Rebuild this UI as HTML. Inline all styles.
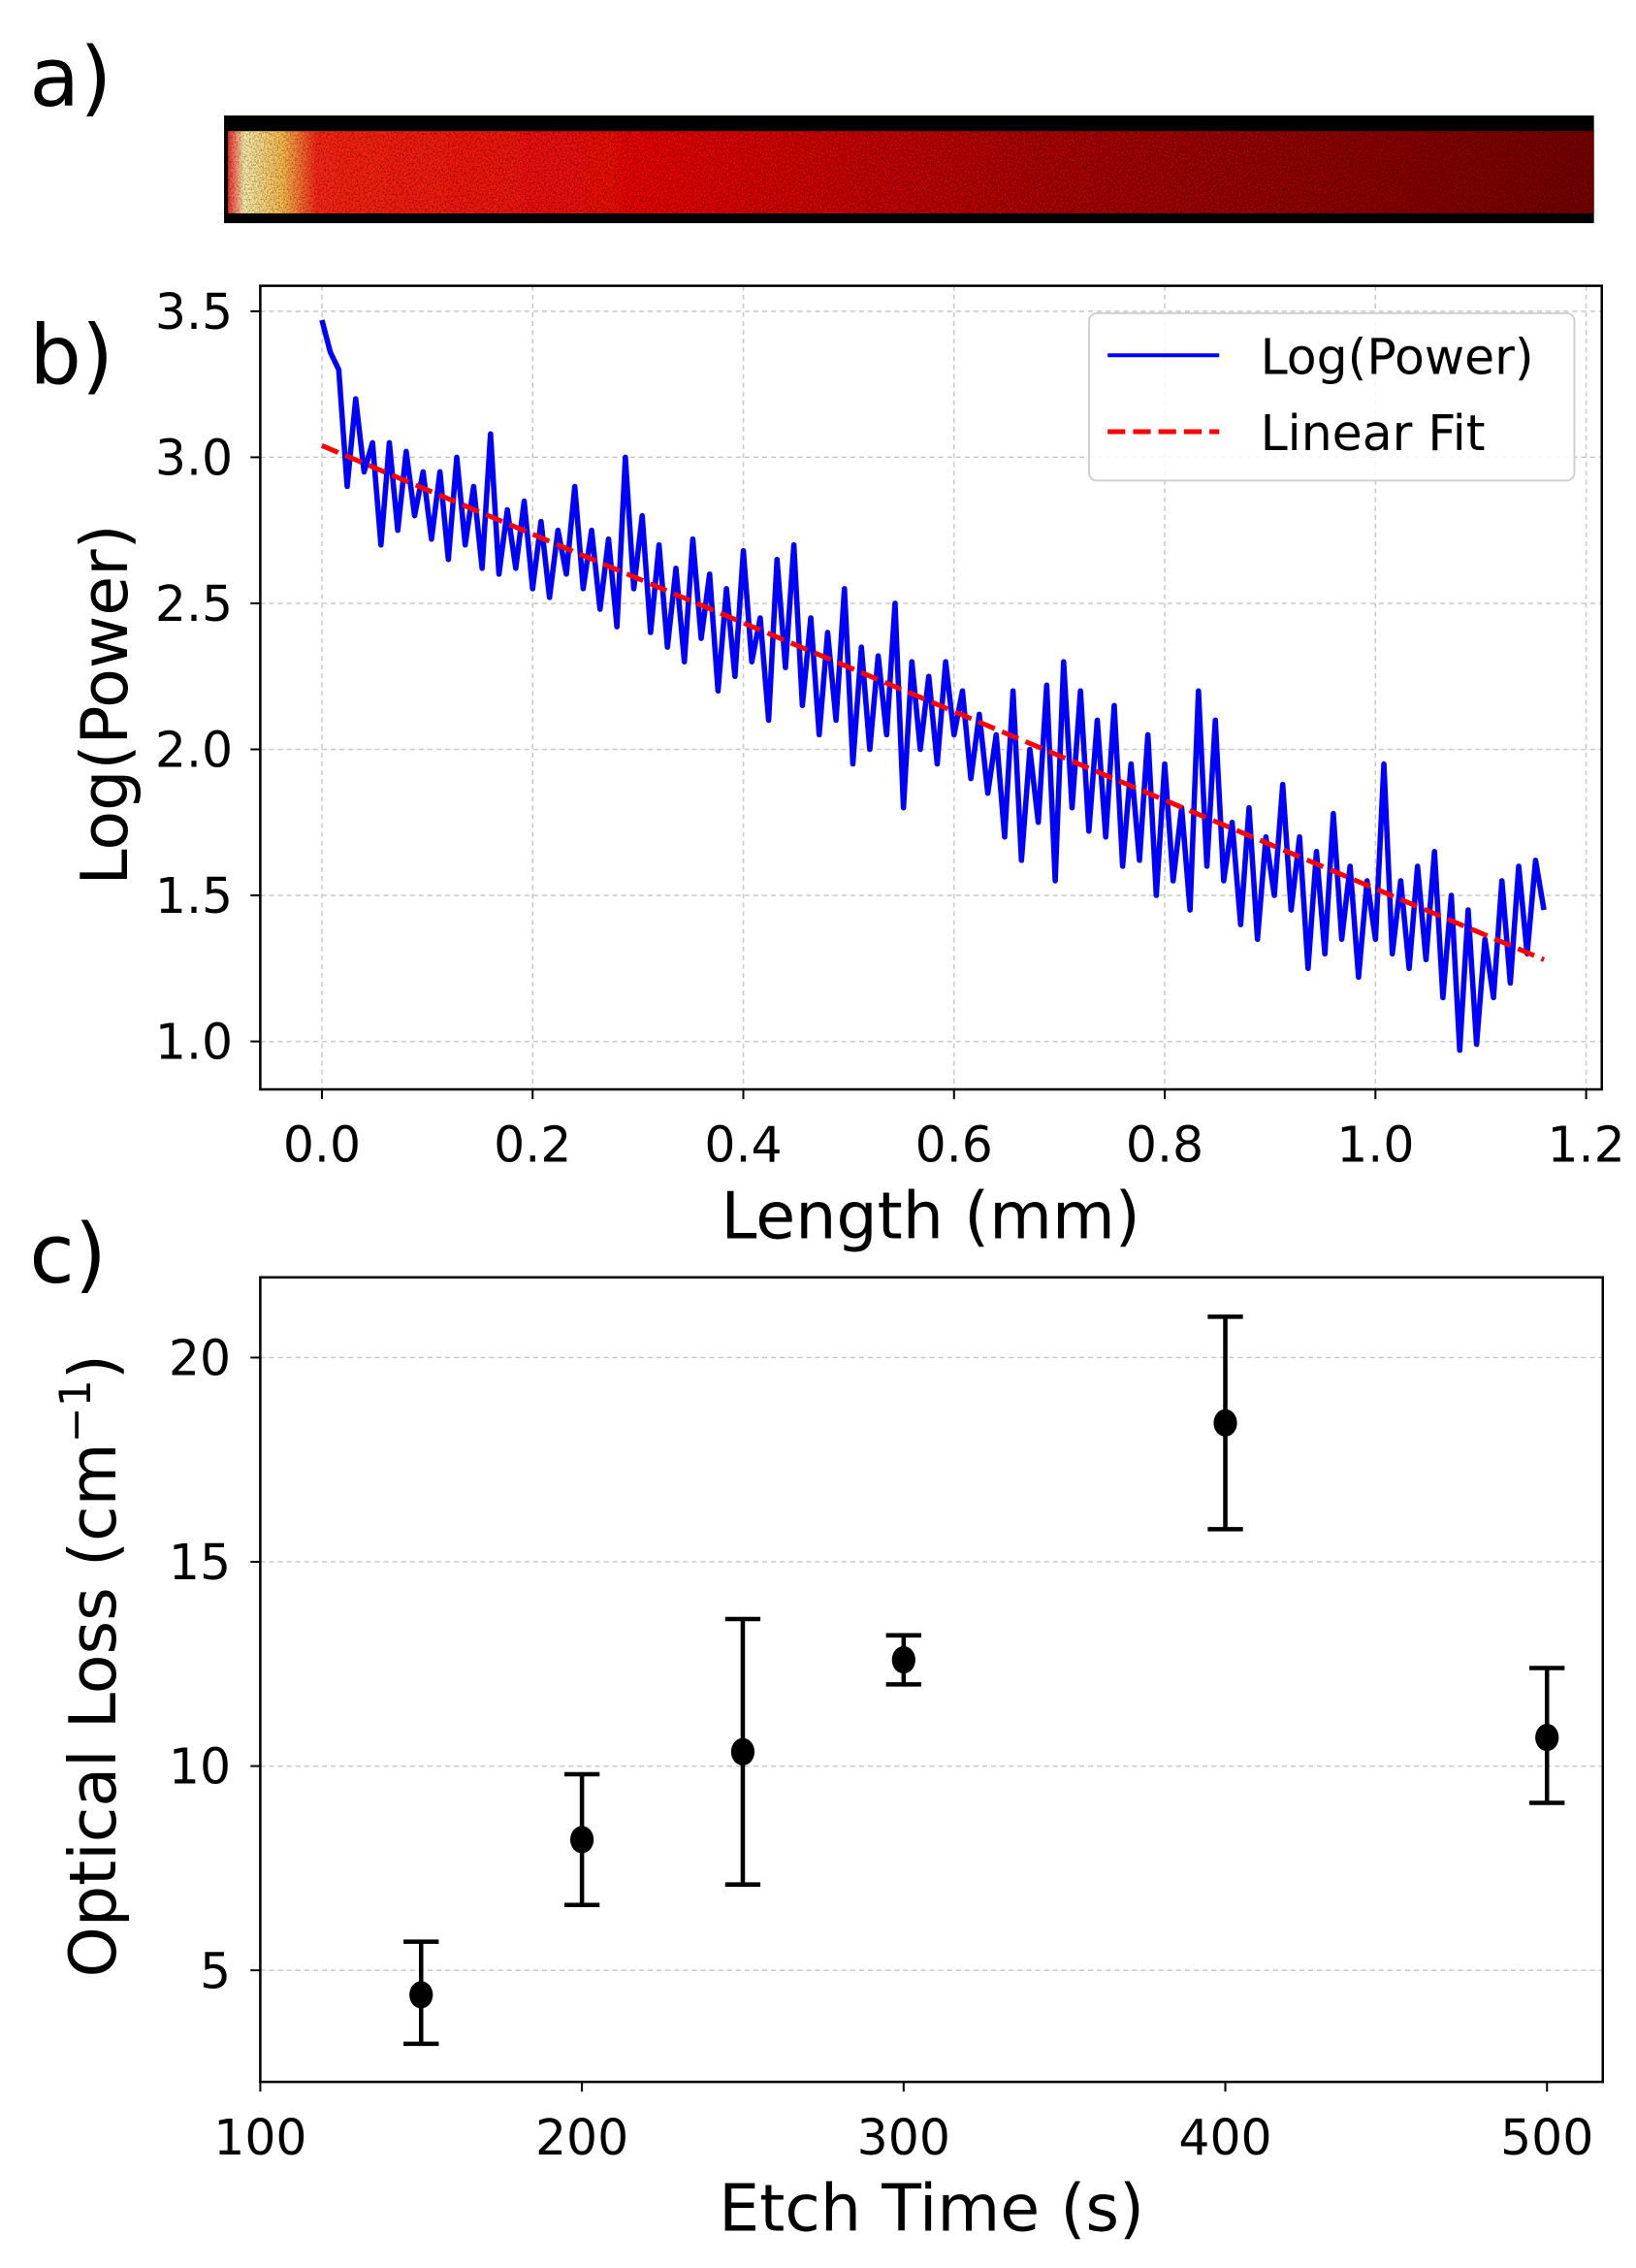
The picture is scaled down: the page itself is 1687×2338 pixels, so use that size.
<!DOCTYPE html>
<html><head><meta charset="utf-8"><style>
html,body{margin:0;padding:0;background:#fff;}
svg{display:block;font-family:"DejaVu Sans","Liberation Sans",sans-serif;}
</style></head><body>
<svg id="fig" width="1687" height="2338" viewBox="0 0 1687 2338" xmlns="http://www.w3.org/2000/svg">
<defs>
<linearGradient id="barGrad" x1="0" x2="1" y1="0" y2="0">
<stop offset="0" stop-color="#ff3030"/>
<stop offset="0.012" stop-color="#fff4b0"/>
<stop offset="0.04" stop-color="#ffc050"/>
<stop offset="0.065" stop-color="#ff2a1a"/>
<stop offset="0.3" stop-color="#f01010"/>
<stop offset="0.6" stop-color="#b00808"/>
<stop offset="1" stop-color="#7a0505"/>
</linearGradient>
<filter id="noise" x="0" y="0" width="1" height="1">
<feTurbulence type="fractalNoise" baseFrequency="0.6" numOctaves="2" seed="3" result="t"/>
<feColorMatrix in="t" type="matrix" values="0 0 0 0 0  0 0 0 0 0  0 0 0 0 0  0 0 0 1.6 -0.55" result="d"/>
<feComposite in="d" in2="SourceGraphic" operator="in" result="dm"/>
<feMerge><feMergeNode in="SourceGraphic"/><feMergeNode in="dm"/></feMerge>
</filter>
</defs>
<g transform="scale(1.009)">
<text x="30" y="108" font-size="84">a)</text>
<g>
<rect x="229" y="118" width="1400" height="110" fill="#000"/>
<rect x="233" y="134" width="1396" height="84" fill="url(#barGrad)" filter="url(#noise)"/>
</g>

<text x="30" y="392" font-size="84">b)</text>
<g id="chartB"></g>

<text x="30" y="1310" font-size="84">c)</text>
<g id="chartC"></g>
</g>
</svg>
<script>
const NS="http://www.w3.org/2000/svg";
function mk(parent,tag,attrs,text){const e=document.createElementNS(NS,tag);for(const k in attrs)e.setAttribute(k,attrs[k]);if(text!==undefined)e.textContent=text;parent.appendChild(e);return e;}

// ---------- Panel b data ----------
const bStepX = 0.008;
const bLogPower = [3.47,3.36,3.30,2.90,3.20,2.95,3.05,2.70,3.05,2.75,3.02,2.80,2.95,2.72,2.95,2.65,3.00,2.70,2.90,2.62,
3.08,2.60,2.82,2.62,2.85,2.55,2.78,2.52,2.75,2.60,2.90,2.55,2.75,2.48,2.72,2.42,3.00,2.55,2.80,2.40,
2.70,2.35,2.62,2.30,2.72,2.38,2.60,2.20,2.55,2.25,2.68,2.30,2.45,2.10,2.65,2.28,2.70,2.15,2.45,2.05,
2.40,2.10,2.55,1.95,2.35,2.00,2.32,2.05,2.50,1.80,2.30,2.00,2.25,1.95,2.30,2.05,2.20,1.90,2.12,1.85,
2.05,1.70,2.20,1.62,2.00,1.75,2.22,1.55,2.30,1.80,2.20,1.72,2.10,1.70,2.15,1.60,1.95,1.62,2.05,1.50,
1.95,1.55,1.80,1.45,2.20,1.60,2.10,1.55,1.75,1.40,1.80,1.35,1.70,1.50,1.88,1.45,1.70,1.25,1.65,1.30,
1.78,1.35,1.60,1.22,1.55,1.35,1.95,1.30,1.55,1.25,1.60,1.28,1.65,1.15,1.50,0.97,1.45,0.99,1.35,1.15,
1.55,1.20,1.60,1.30,1.62,1.45];
const bFitX = [0, 1.16];
const bFitY = [3.04, 1.28];
const bXTicks = [0.0,0.2,0.4,0.6,0.8,1.0,1.2];
const bXTickLabels = ["0.0","0.2","0.4","0.6","0.8","1.0","1.2"];
const bYTicks = [1.0,1.5,2.0,2.5,3.0,3.5];
const bYTickLabels = ["1.0","1.5","2.0","2.5","3.0","3.5"];

// ---------- Panel c data ----------
const cEtchTime = [150,200,250,300,400,500];
const cLoss = [4.4,8.2,10.35,12.6,18.4,10.7];
const cErrLow = [3.2,6.6,7.1,12.0,15.8,9.1];
const cErrHigh = [5.7,9.8,13.6,13.2,21.0,12.4];
const cXTicks = [100,200,300,400,500];
const cXTickLabels = ["100","200","300","400","500"];
const cYTicks = [5,10,15,20];
const cYTickLabels = ["5","10","15","20"];

// ---------- Panel b ----------
(function(){
const g=document.getElementById('chartB');
const L=266,R=1637,T=292,B=1113;
const xs=v=>329+(v-0)*(1621-329)/1.2;
const ys=v=>318+(3.5-v)*(1064-318)/2.5;
bXTicks.forEach((t,i)=>{
 let gl=mk(g,'line',{x1:xs(t),x2:xs(t),y1:T,y2:B,stroke:'#c8c8c8','stroke-width':1.5,'stroke-dasharray':'5,4'});
 
 
 let tk=mk(g,'line',{x1:xs(t),x2:xs(t),y1:B,y2:B+10,stroke:'#000','stroke-width':2});
 
 
 let tl=mk(g,'text',{x:xs(t),y:1187,'font-size':50,'text-anchor':'middle'},bXTickLabels[i]);
 
 
});
bYTicks.forEach((t,i)=>{
 let gl=mk(g,'line',{x1:L,x2:R,y1:ys(t),y2:ys(t),stroke:'#c8c8c8','stroke-width':1.5,'stroke-dasharray':'5,4'});
 
 
 let tk=mk(g,'line',{x1:L-10,x2:L,y1:ys(t),y2:ys(t),stroke:'#000','stroke-width':2});
 
 
 let tl=mk(g,'text',{x:238,y:ys(t)+18,'font-size':50,'text-anchor':'end'},bYTickLabels[i]);
 
 
});
const pts=bLogPower.map((v,i)=>xs(i*bStepX).toFixed(1)+','+ys(v).toFixed(1)).join(' ');
let pl=mk(g,'polyline',{points:pts,fill:'none',stroke:'#0000ff','stroke-width':5.5,'stroke-linejoin':'round'});


let fit=mk(g,'line',{x1:xs(bFitX[0]),y1:ys(bFitY[0]),x2:xs(bFitX[1]),y2:ys(bFitY[1]),stroke:'#ff0000','stroke-width':5,'stroke-dasharray':'18,8'});


let fr=mk(g,'rect',{x:L,y:T,width:R-L,height:B-T,fill:'none',stroke:'#000','stroke-width':2.5});


let lg=mk(g,'g',{});


mk(lg,'rect',{x:1113,y:320,width:496,height:171,rx:8,fill:'#fff','fill-opacity':0.85,stroke:'#d0d0d0','stroke-width':2});
let e1=mk(lg,'g',{});


mk(e1,'line',{x1:1132,x2:1246,y1:363,y2:363,stroke:'#0000ff','stroke-width':4});
mk(e1,'text',{x:1288,y:382,'font-size':50},'Log(Power)');
let e2=mk(lg,'g',{});


mk(e2,'line',{x1:1132,x2:1246,y1:441,y2:441,stroke:'#ff0000','stroke-width':5,'stroke-dasharray':'18,8'});
mk(e2,'text',{x:1288,y:460,'font-size':50},'Linear Fit');
let xl=mk(g,'text',{x:951,y:1265,'font-size':66,'text-anchor':'middle'},'Length (mm)');


let yl=mk(g,'text',{x:0,y:0,'font-size':66,'text-anchor':'middle',transform:'translate(130,720) rotate(-90)'},'Log(Power)');


})();

// ---------- Panel c ----------
(function(){
const g=document.getElementById('chartC');
const L=266,R=1638,T=1305,B=2127;
const xs=v=>266+(v-100)*(1581-266)/400;
const ys=v=>1387+(20-v)*(2013-1387)/15;
cYTicks.forEach((t,i)=>{
 let gl=mk(g,'line',{x1:L,x2:R,y1:ys(t),y2:ys(t),stroke:'#c8c8c8','stroke-width':1.5,'stroke-dasharray':'5,4'});
 
 
 let tk=mk(g,'line',{x1:L-10,x2:L,y1:ys(t),y2:ys(t),stroke:'#000','stroke-width':2});
 
 
 let tl=mk(g,'text',{x:236,y:ys(t)+18,'font-size':50,'text-anchor':'end'},cYTickLabels[i]);
 
 
});
cXTicks.forEach((t,i)=>{
 let tk=mk(g,'line',{x1:xs(t),x2:xs(t),y1:B,y2:B+10,stroke:'#000','stroke-width':2});
 
 
 let tl=mk(g,'text',{x:xs(t),y:2201,'font-size':50,'text-anchor':'middle'},cXTickLabels[i]);
 
 
});
cEtchTime.forEach((t,i)=>{
 const x=xs(t);
 let eg=mk(g,'g',{});
 
 
 mk(eg,'line',{x1:x,x2:x,y1:ys(cErrLow[i]),y2:ys(cErrHigh[i]),stroke:'#000','stroke-width':4.5});
 mk(eg,'line',{x1:x-18,x2:x+18,y1:ys(cErrLow[i]),y2:ys(cErrLow[i]),stroke:'#000','stroke-width':4.5});
 mk(eg,'line',{x1:x-18,x2:x+18,y1:ys(cErrHigh[i]),y2:ys(cErrHigh[i]),stroke:'#000','stroke-width':4.5});
 mk(eg,'ellipse',{cx:x,cy:ys(cLoss[i]),rx:12,ry:14,fill:'#000'});
});
let fr=mk(g,'rect',{x:L,y:T,width:R-L,height:B-T,fill:'none',stroke:'#000','stroke-width':2.5});


let xl=mk(g,'text',{x:952,y:2279,'font-size':66,'text-anchor':'middle'},'Etch Time (s)');


let yl=mk(g,'text',{x:0,y:0,'font-size':66,'text-anchor':'middle',transform:'translate(118,1702) rotate(-90)'});


mk(yl,'tspan',{},'Optical Loss (cm');
mk(yl,'tspan',{dy:-26,'font-size':44},'−1');
mk(yl,'tspan',{dy:26},')');
})();
</script>
</body></html>
